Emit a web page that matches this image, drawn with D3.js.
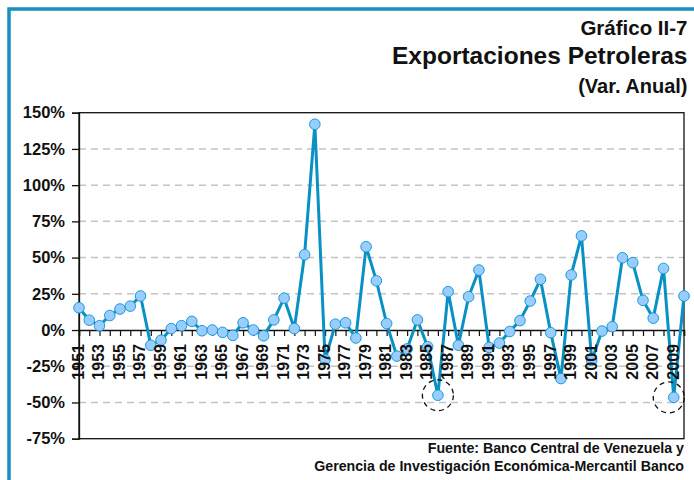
<!DOCTYPE html>
<html>
<head>
<meta charset="utf-8">
<script src="https://cdn.jsdelivr.net/npm/d3@7"></script>
<style>
  body { margin: 0; background: #fff; }
  svg text { font-family: "Liberation Sans", Arial, sans-serif; font-weight: bold; fill: #111; }
</style>
</head>
<body>
<div id="chart"></div>
<script>
// Exportaciones petroleras, variación anual (%)
const years = d3.range(1951, 2011);
const values = [
  15.4, 6.8, 3, 10, 14.5, 16.5, 23.5, -10.5, -7, 1,
  3, 6, -0.5, 0, -1.6, -3.7, 5, 0, -4, 7,
  22, 1, 52, 142, -20.5, 4, 5, -5.5, 57.5, 34,
  4.5, -18, -13, 7, -11.5, -45, 26.5, -10.5, 23, 41.4,
  -12, -9, -1, 6.5, 20, 35, -1.8, -33.5, 38, 65,
  -21, -0.7, 2.3, 49.9, 46.5, 20.5, 8.2, 42.5, -46.5, 23.5
];
const yTicks = [150, 125, 100, 75, 50, 25, 0, -25, -50, -75];
const xTickLabels = d3.range(1951, 2011, 2);
const highlighted = [1986, 2009];

const svgWidth = 694;
const svgHeight = 480;

const margin = { top: 112.7, right: 10, bottom: 41.3, left: 79 };
const width = svgWidth - margin.left - margin.right;
const height = svgHeight - margin.top - margin.bottom;

const svg = d3.select("#chart")
  .append("svg")
  .attr("width", svgWidth)
  .attr("height", svgHeight);

// outer blue frame
svg.append("rect")
  .attr("x", 9)
  .attr("y", 9)
  .attr("width", 720)
  .attr("height", 520)
  .attr("fill", "none")
  .attr("stroke", "#1b8fc2")
  .attr("stroke-width", 3.5);

// titles
const titles = [
  { text: "Gráfico II-7", y: 35, size: 20.5 },
  { text: "Exportaciones Petroleras", y: 64, size: 24.5 },
  { text: "(Var. Anual)", y: 93, size: 20 }
];
svg.selectAll("text.title")
  .data(titles)
  .enter()
  .append("text")
  .attr("class", "title")
  .attr("x", 687.5)
  .attr("y", d => d.y)
  .attr("text-anchor", "end")
  .style("font-size", d => d.size + "px")
  .text(d => d.text);

const chartGroup = svg.append("g")
  .attr("transform", `translate(${margin.left}, ${margin.top})`);

const x = d3.scalePoint()
  .domain(years)
  .range([0, width]);

const y = d3.scaleLinear()
  .domain([-75, 150])
  .range([height, 0]);

// dashed grid lines
chartGroup.selectAll("line.grid")
  .data(yTicks.filter(d => d !== 0 && d !== 150 && d !== -75))
  .enter()
  .append("line")
  .attr("class", "grid")
  .attr("x1", 0)
  .attr("x2", width)
  .attr("y1", d => y(d))
  .attr("y2", d => y(d))
  .attr("stroke", "#c4c4c4")
  .attr("stroke-width", 1.5)
  .attr("stroke-dasharray", "7,5");

// plot frame
chartGroup.append("rect")
  .attr("width", width)
  .attr("height", height)
  .attr("fill", "none")
  .attr("stroke", "#111")
  .attr("stroke-width", 1.3);

// y axis
const leftAxis = d3.axisLeft(y)
  .tickValues(yTicks)
  .tickSize(7)
  .tickPadding(7)
  .tickFormat(d => d + "%");

const yAxis = chartGroup.append("g").call(leftAxis);
yAxis.select(".domain").attr("stroke", "#111").attr("stroke-width", 1.3);
yAxis.selectAll(".tick line").attr("stroke", "#111").attr("stroke-width", 1.3);
yAxis.selectAll(".tick text")
  .style("font-size", "16.5px")
  .attr("fill", "#111");

// zero axis with yearly ticks
const bottomAxis = d3.axisBottom(x)
  .tickSize(6)
  .tickFormat("");

const xAxis = chartGroup.append("g")
  .attr("transform", `translate(0, ${y(0)})`)
  .call(bottomAxis);
xAxis.select(".domain").attr("stroke", "#111").attr("stroke-width", 1.5);
xAxis.selectAll(".tick line").attr("stroke", "#111").attr("stroke-width", 1.2);

// series
const line = d3.line()
  .x((d, i) => x(years[i]))
  .y(d => y(d));

chartGroup.append("path")
  .datum(values)
  .attr("fill", "none")
  .attr("stroke", "#0990c4")
  .attr("stroke-width", 3)
  .attr("stroke-linejoin", "round")
  .attr("d", line);

chartGroup.selectAll("circle.point")
  .data(values)
  .enter()
  .append("circle")
  .attr("class", "point")
  .attr("cx", (d, i) => x(years[i]))
  .attr("cy", d => y(d))
  .attr("r", 5.3)
  .attr("fill", "#99ccff")
  .attr("stroke", "#1a9ad4")
  .attr("stroke-width", 1);

// dashed circles round the two lows
chartGroup.selectAll("circle.mark")
  .data(highlighted)
  .enter()
  .append("circle")
  .attr("class", "mark")
  .attr("cx", d => x(d) - (d === 2009 ? 5 : 0))
  .attr("cy", d => y(values[years.indexOf(d)]))
  .attr("r", 15.5)
  .attr("fill", "none")
  .attr("stroke", "#111")
  .attr("stroke-width", 1.3)
  .attr("stroke-dasharray", "5,4");

// rotated year labels, drawn over the series
chartGroup.selectAll("text.year")
  .data(xTickLabels)
  .enter()
  .append("text")
  .attr("class", "year")
  .attr("transform", d => `translate(${x(d)}, ${y(0) + 14}) rotate(-90)`)
  .attr("text-anchor", "end")
  .attr("dy", "0.3em")
  .style("font-size", "16px")
  .text(d => d);

// source
const source = [
  { text: "Fuente: Banco Central de Venezuela y", y: 453 },
  { text: "Gerencia de Investigación Económica-Mercantil Banco", y: 471 }
];
svg.selectAll("text.source")
  .data(source)
  .enter()
  .append("text")
  .attr("class", "source")
  .attr("x", 684)
  .attr("y", d => d.y)
  .attr("text-anchor", "end")
  .style("font-size", "14.2px")
  .text(d => d.text);
</script>
</body>
</html>
